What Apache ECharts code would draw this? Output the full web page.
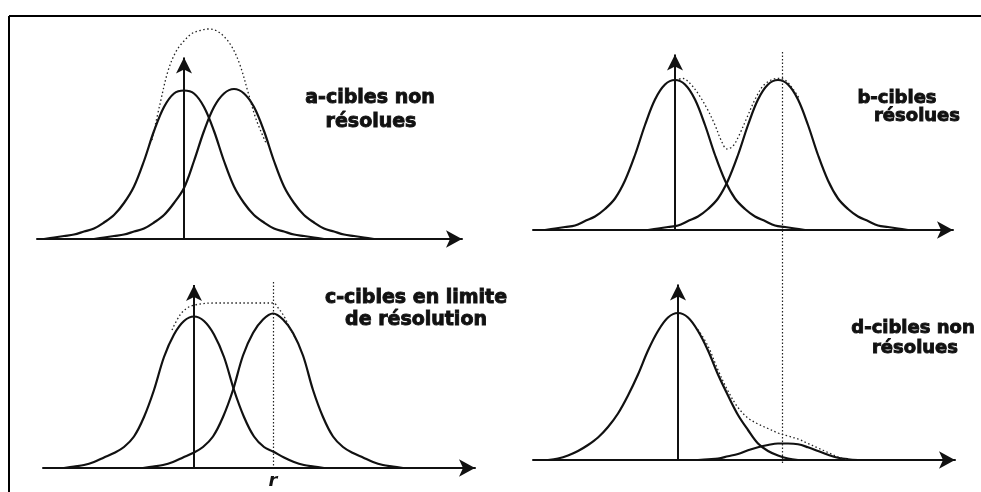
<!DOCTYPE html>
<html>
<head>
<meta charset="utf-8">
<script src="https://cdn.jsdelivr.net/npm/echarts@6/dist/echarts.min.js"></script>
<style>
  html, body { margin: 0; padding: 0; background: #ffffff; }
  #chart { width: 981px; height: 492px; }
</style>
</head>
<body>
<div id="chart"></div>
<script>
// Echo profiles: x = offset from the first target (range units),
// y = echo amplitude relative to a single target's peak.

// a — two close targets, not resolved
const aTarget1 = [[-140,0],[-130,0.01],[-120,0.02],[-110,0.03],[-100,0.05],[-90,0.07],[-80,0.11],[-70,0.16],[-60,0.24],[-50,0.35],[-40,0.52],[-30,0.72],[-20,0.88],[-10,0.97],[0,0.99],[10,0.97],[20,0.88],[30,0.72],[40,0.52],[50,0.35],[60,0.24],[70,0.16],[80,0.11],[90,0.07],[100,0.05],[110,0.03],[120,0.02],[130,0.01],[140,0]];
const aTarget2 = [[-90,0],[-80,0.01],[-70,0.02],[-60,0.03],[-50,0.05],[-40,0.07],[-30,0.11],[-20,0.16],[-10,0.24],[0,0.34],[10,0.52],[20,0.72],[30,0.88],[40,0.97],[50,1.0],[60,0.97],[70,0.88],[80,0.72],[90,0.52],[100,0.35],[110,0.24],[120,0.16],[130,0.11],[140,0.07],[150,0.05],[160,0.03],[170,0.02],[180,0.01],[190,0]];
const aSum = [[-32,0.66],[-24,0.90],[-16,1.12],[-8,1.25],[0,1.32],[8,1.37],[16,1.39],[24,1.40],[32,1.39],[40,1.35],[48,1.28],[56,1.16],[64,0.98],[72,0.80],[82,0.64]];

// b — targets far enough apart to be resolved
const bTarget1 = [[-130,0],[-120,0.01],[-110,0.02],[-100,0.03],[-90,0.06],[-80,0.09],[-70,0.14],[-60,0.21],[-50,0.33],[-40,0.50],[-30,0.70],[-20,0.87],[-10,0.97],[0,1.0],[10,0.97],[20,0.87],[30,0.70],[40,0.50],[50,0.33],[60,0.21],[70,0.14],[80,0.09],[90,0.06],[100,0.03],[110,0.02],[120,0.01],[130,0]];
const bTarget2 = [[-27,0],[-17,0.01],[-7,0.02],[3,0.03],[13,0.06],[23,0.09],[33,0.14],[43,0.21],[53,0.33],[63,0.50],[73,0.70],[83,0.87],[93,0.97],[103,1.0],[113,0.97],[123,0.87],[133,0.70],[143,0.50],[153,0.33],[163,0.21],[173,0.14],[183,0.09],[193,0.06],[203,0.03],[213,0.02],[223,0.01],[233,0]];
const bSum = [[0,1.0],[8,1.01],[16,0.97],[24,0.90],[32,0.81],[40,0.70],[46,0.60],[52,0.54],[58,0.56],[64,0.63],[72,0.75],[80,0.87],[88,0.96],[96,1.0],[103,1.01],[110,1.0],[118,0.94],[125,0.87]];

// c — targets at the resolution limit r
const cTarget1 = [[-130,0],[-120,0.01],[-110,0.02],[-100,0.04],[-90,0.07],[-80,0.10],[-70,0.14],[-60,0.21],[-50,0.34],[-40,0.52],[-30,0.74],[-20,0.89],[-10,0.98],[0,1.01],[10,0.98],[20,0.89],[30,0.74],[40,0.52],[50,0.34],[60,0.21],[70,0.14],[79,0.11],[90,0.07],[100,0.04],[110,0.02],[120,0.01],[130,0]];
const cTarget2 = [[-51,0],[-41,0.01],[-31,0.02],[-21,0.04],[-11,0.07],[-1,0.10],[9,0.14],[19,0.21],[29,0.34],[39,0.52],[49,0.75],[59,0.90],[69,0.99],[79,1.03],[89,0.99],[99,0.90],[109,0.75],[119,0.52],[129,0.34],[139,0.21],[149,0.14],[159,0.10],[169,0.07],[179,0.04],[189,0.02],[199,0.01],[209,0]];
const cSum = [[-22,0.92],[-14,1.02],[-6,1.07],[3,1.09],[20,1.10],[40,1.10],[60,1.10],[79,1.10],[85,1.06],[91,1.00],[96,0.93],[101,0.87]];
const resolutionR = 79;
const resolutionSpan = [1.24, 0];

// d — weak echo hidden in the tail of a strong one
const dTarget1 = [[-130,0],[-120,0.01],[-110,0.03],[-100,0.06],[-90,0.10],[-80,0.15],[-70,0.22],[-60,0.31],[-50,0.43],[-40,0.57],[-30,0.73],[-20,0.86],[-10,0.95],[0,0.98],[10,0.95],[20,0.86],[30,0.73],[40,0.57],[50,0.43],[60,0.30],[70,0.20],[80,0.11],[90,0.06],[100,0.03],[110,0.01],[120,0]];
const dTarget2 = [[20,0],[30,0.005],[40,0.01],[50,0.025],[60,0.04],[70,0.065],[80,0.085],[90,0.10],[100,0.11],[110,0.11],[120,0.105],[130,0.085],[140,0.06],[150,0.035],[160,0.015],[170,0.005],[180,0]];
const dSum = [[20,0.87],[30,0.76],[40,0.60],[50,0.46],[60,0.35],[70,0.28],[80,0.24],[90,0.21],[100,0.18],[110,0.16],[120,0.14],[130,0.11],[140,0.08],[150,0.05],[160,0.02],[170,0]];
// dotted reference through b's second peak, running down to d's weak echo
const secondTargetX = 104;
const secondTargetSpan = [2.72, -0.03];

// Height (amplitude units) of each vertical axis arrow tip
const axisTop = [1.21, 1.17, 1.22, 1.17];

const panelTitles = [
  ['a-cibles non', 'résolues'],
  ['b-cibles', 'résolues'],
  ['c-cibles en limite', 'de résolution'],
  ['d-cibles non', 'résolues']
];

// Panel layout in pixels: axis start, arrow tip, baseline, origin; and amplitude range
const layout = [
  { start: 37,  tip: 462, base: 239, origin: 184, yMin: 0,     yMax: 1.5 },
  { start: 533, tip: 953, base: 230, origin: 675, yMin: 0,     yMax: 1.5 },
  { start: 43,  tip: 475, base: 468, origin: 194, yMin: 0,     yMax: 1.5 },
  { start: 533, tip: 955, base: 460, origin: 678, yMin: -0.05, yMax: 2.8 }
];
const PX_PER_UNIT = 150;
const ARROW = [13, 16];

const INK = '#111';

const grids = [], xAxes = [], yAxes = [];
layout.forEach((p, i) => {
  grids.push({
    left: p.start,
    top: p.base - p.yMax * PX_PER_UNIT,
    width: p.tip - p.start,
    height: (p.yMax - p.yMin) * PX_PER_UNIT
  });
  xAxes.push({
    gridIndex: i, type: 'value',
    min: p.start - p.origin, max: p.tip - p.origin,
    axisLine: { show: true, onZero: true, symbol: ['none', 'arrow'], symbolSize: ARROW,
                lineStyle: { color: INK, width: 2 } },
    axisTick: { show: false }, axisLabel: { show: false }, splitLine: { show: false }
  });
  yAxes.push({ gridIndex: i, type: 'value', min: p.yMin, max: p.yMax, show: false });
});

function curve(i, data) {
  return {
    type: 'line', xAxisIndex: i, yAxisIndex: i, data: data,
    smooth: 0.35, showSymbol: false, silent: true,
    lineStyle: { color: INK, width: 2.2 }
  };
}
function sumCurve(i, data) {
  return {
    type: 'line', xAxisIndex: i, yAxisIndex: i, data: data,
    smooth: 0.35, showSymbol: false, silent: true,
    lineStyle: { color: '#222', width: 1.3, type: [1.5, 2.5] }
  };
}
function verticalAxis(i) {
  return {
    type: 'line', xAxisIndex: i, yAxisIndex: i, data: [], silent: true,
    markLine: {
      silent: true, animation: false,
      symbol: ['none', 'arrow'], symbolSize: [12, 16],
      label: { show: false },
      lineStyle: { color: INK, width: 2, type: 'solid' },
      emphasis: { disabled: true },
      data: [[{ coord: [0, 0] }, { coord: [0, axisTop[i]] }]]
    }
  };
}
function dottedRef(i, x, span, label) {
  return {
    type: 'line', xAxisIndex: i, yAxisIndex: i, data: [], silent: true,
    markLine: {
      silent: true, animation: false,
      symbol: ['none', 'none'],
      label: label ? {
        show: true, position: 'end', formatter: label, distance: 4,
        color: INK, fontFamily: 'DejaVu Sans', fontStyle: 'italic', fontWeight: 'bold', fontSize: 18
      } : { show: false },
      lineStyle: { color: '#222', width: 1.2, type: [1.5, 2] },
      emphasis: { disabled: true },
      data: [[{ coord: [x, span[0]] }, { coord: [x, span[1]] }]]
    }
  };
}

const series = [
  curve(0, aTarget1), curve(0, aTarget2), sumCurve(0, aSum), verticalAxis(0),
  curve(1, bTarget1), curve(1, bTarget2), sumCurve(1, bSum), verticalAxis(1),
  curve(2, cTarget1), curve(2, cTarget2), sumCurve(2, cSum), verticalAxis(2),
  dottedRef(2, resolutionR, resolutionSpan, 'r'),
  curve(3, dTarget1), curve(3, dTarget2), sumCurve(3, dSum), verticalAxis(3),
  dottedRef(3, secondTargetX, secondTargetSpan)
];

// Caption placement (centre of each line) and size
const captionPos = [
  { size: 19, lines: [[370, 98], [371, 122]] },
  { size: 18, lines: [[897, 98], [917, 116]] },
  { size: 19, lines: [[416, 298], [416, 320]] },
  { size: 18, lines: [[913, 328], [915, 348]] }
];
const graphics = [
  { type: 'line', shape: { x1: 9, y1: 16, x2: 981, y2: 16 }, style: { stroke: '#000', lineWidth: 2 }, silent: true },
  { type: 'line', shape: { x1: 9, y1: 16, x2: 9, y2: 492 }, style: { stroke: '#000', lineWidth: 2 }, silent: true }
];
panelTitles.forEach((lines, i) => {
  lines.forEach((t, j) => {
    const [x, y] = captionPos[i].lines[j];
    graphics.push({
      type: 'text', x: x, y: y, silent: true,
      style: {
        text: t, fill: INK, stroke: INK, lineWidth: 0.9,
        align: 'center', verticalAlign: 'middle',
        font: 'bold ' + captionPos[i].size + 'px "DejaVu Sans"'
      }
    });
  });
});

const chart = echarts.init(document.getElementById('chart'), null, { renderer: 'canvas' });
chart.setOption({
  backgroundColor: '#ffffff',
  animation: false,
  grid: grids,
  xAxis: xAxes,
  yAxis: yAxes,
  series: series,
  graphic: graphics
});
</script>
</body>
</html>
